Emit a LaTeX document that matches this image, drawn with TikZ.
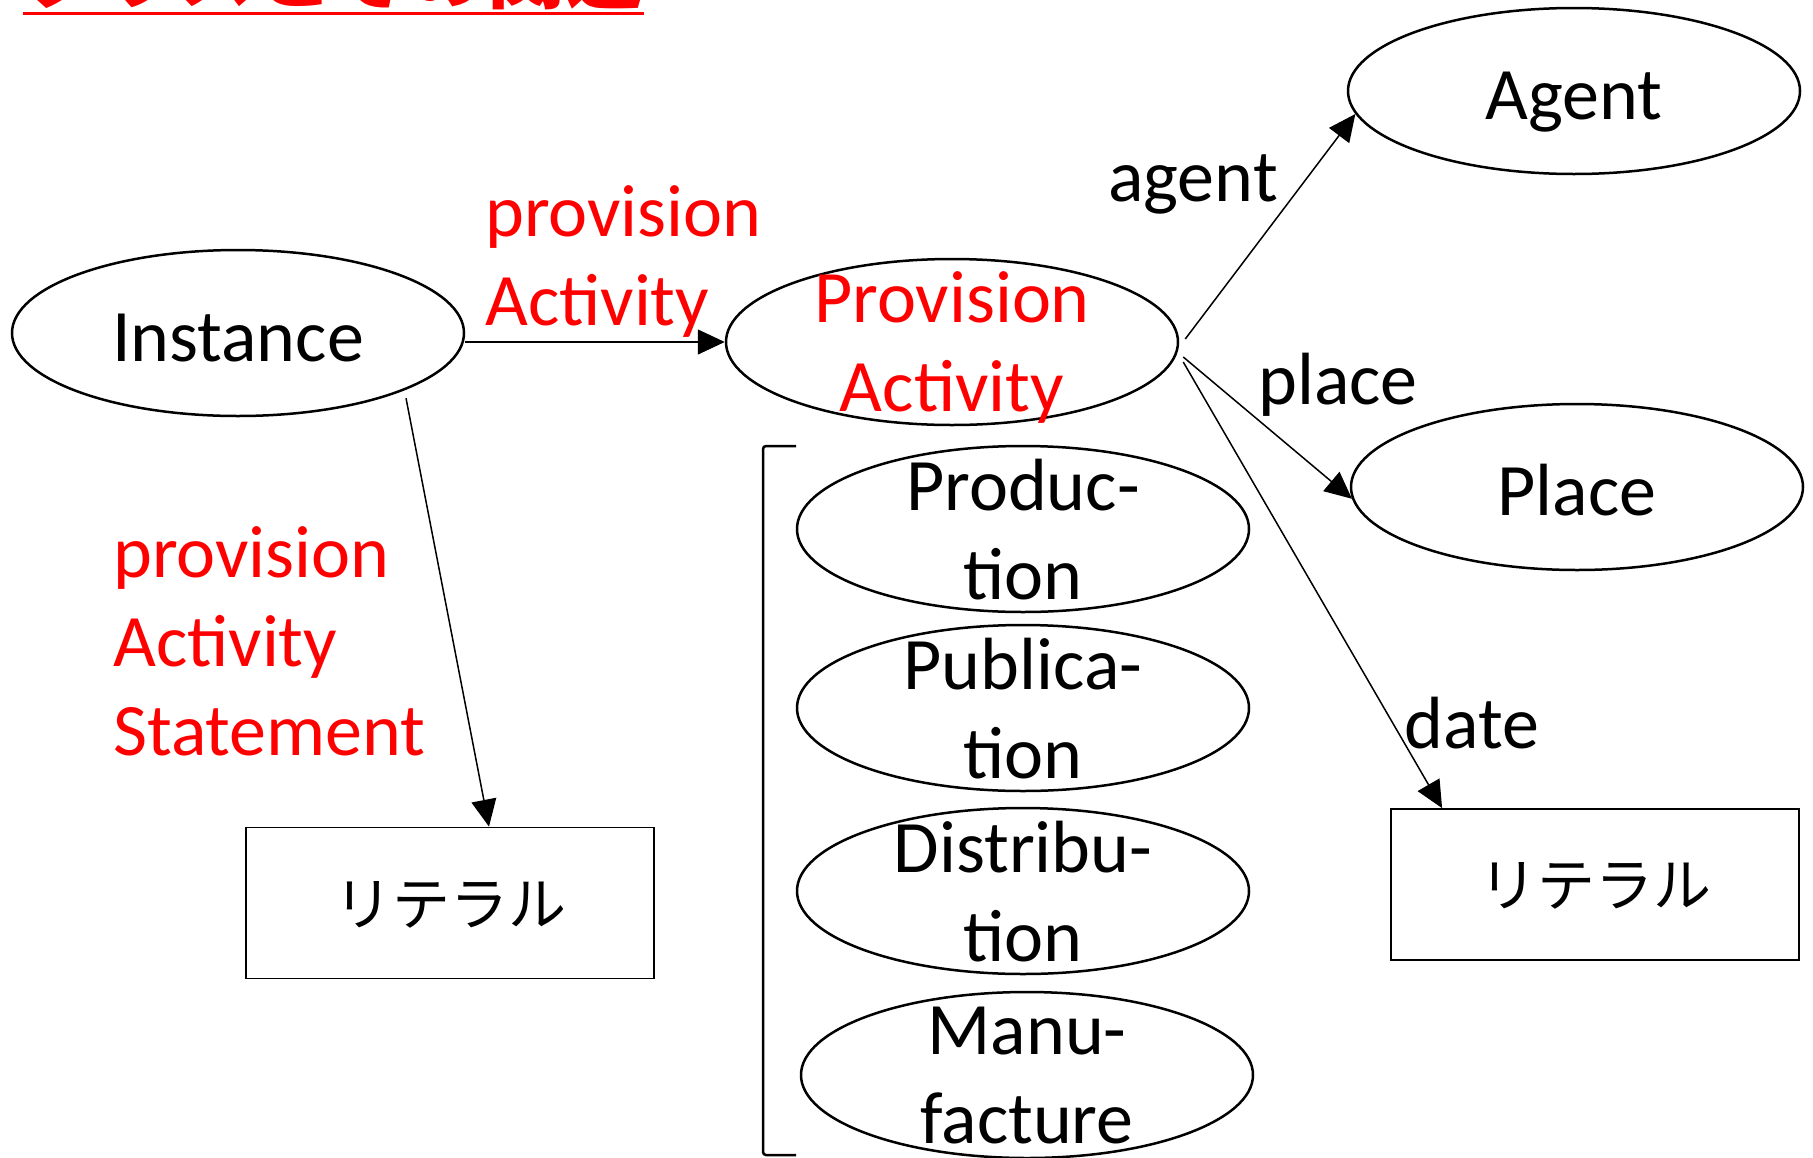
\documentclass[tikz,border=0pt]{standalone}
\usepackage{fontspec}
\setmainfont{Carlito}
\newfontfamily\jpfont{Noto Sans CJK JP}
\usetikzlibrary{shapes.geometric,arrows.meta}
\begin{document}
\begin{tikzpicture}[x=1pt,y=-1pt,
  every node/.style={font=\fontsize{74}{89}\selectfont},
  oval/.style={draw, ellipse, line width=2.5pt, minimum width=452pt,
    minimum height=166pt, inner sep=0pt},
  ovaltext/.style={inner sep=0pt, align=center, text depth=0pt},
  onetext/.style={inner sep=0pt, text height=56pt, text depth=0pt},
  lit/.style={draw, line width=1.8pt, minimum width=408pt, minimum height=151pt,
    inner sep=0pt, text depth=0pt, font=\jpfont\fontsize{58}{70}\selectfont},
  arr/.style={line width=1.5pt, -{Triangle[length=27pt,width=25pt]}},
  lbl/.style={inner sep=0pt},
  redlbl/.style={lbl, text=red, align=left},
]
\useasboundingbox (0,0) rectangle (1813,1157);
\clip (0,0) rectangle (1813,1157);

% heading
\node[anchor=base west, inner sep=0pt, text=red,
  font=\jpfont\bfseries\fontsize{78}{78}\selectfont] (title) at (23,2) {クラスとその関連};
\draw[red, line width=3.5pt] ([yshift=-11.5pt]title.base west) -- ([yshift=-11.5pt]title.base east);

% classes
\node[oval, label={[onetext]center:Instance}] (inst) at (238,333) {};
\node[oval, label={[ovaltext, text=red]center:{Provision\\Activity}}] (pa) at (952,342) {};
\node[oval, label={[onetext]center:Agent}] (agent) at (1574,91) {};
\node[oval, label={[onetext]center:Place}] (place) at (1577,487) {};
\node[oval, label={[ovaltext]center:{Produc-\\tion}}] (prod) at (1023,529) {};
\node[oval, label={[ovaltext]center:{Publica-\\tion}}] (pub) at (1023,708) {};
\node[oval, label={[ovaltext]center:{Distribu-\\tion}}] (dist) at (1023,891) {};
\node[oval, label={[ovaltext]center:{Manu-\\facture}}] (manu) at (1027,1075) {};

% literals
\node[lit] (litL) at (450,903) {リテラル};
\node[lit] (litR) at (1595,884.5) {リテラル};

% bracket grouping the subclasses
\draw[line width=2.5pt, rounded corners=3pt] (796,446) -- (763,446) -- (763,1155) -- (796,1155);

% property labels
\node[redlbl, anchor=west] (lpa) at (485,261) {provision\\Activity};
\node[redlbl, anchor=west] (lst) at (113,641) {provision\\Activity\\Statement};
\node[lbl] (lagent) at (1193,184) {agent};
\node[lbl] (lplace) at (1338,385) {place};
\node[lbl] (ldate) at (1472,723) {date};

% properties
\draw[arr] (inst.east |- pa.west) -- (pa.west);
\draw[arr, shorten <=8pt] (inst.-19.5) -- ([xshift=39pt]litL.north);
\draw[arr] ([shift={(6pt,3pt)}]pa.east) -- (agent.186);
\draw[arr] ([shift={(4pt,-15pt)}]pa.east) -- (place.183);
\draw[arr] ([shift={(4pt,-20pt)}]pa.east) -- ([xshift=52pt]litR.north west);
\end{tikzpicture}
\end{document}
